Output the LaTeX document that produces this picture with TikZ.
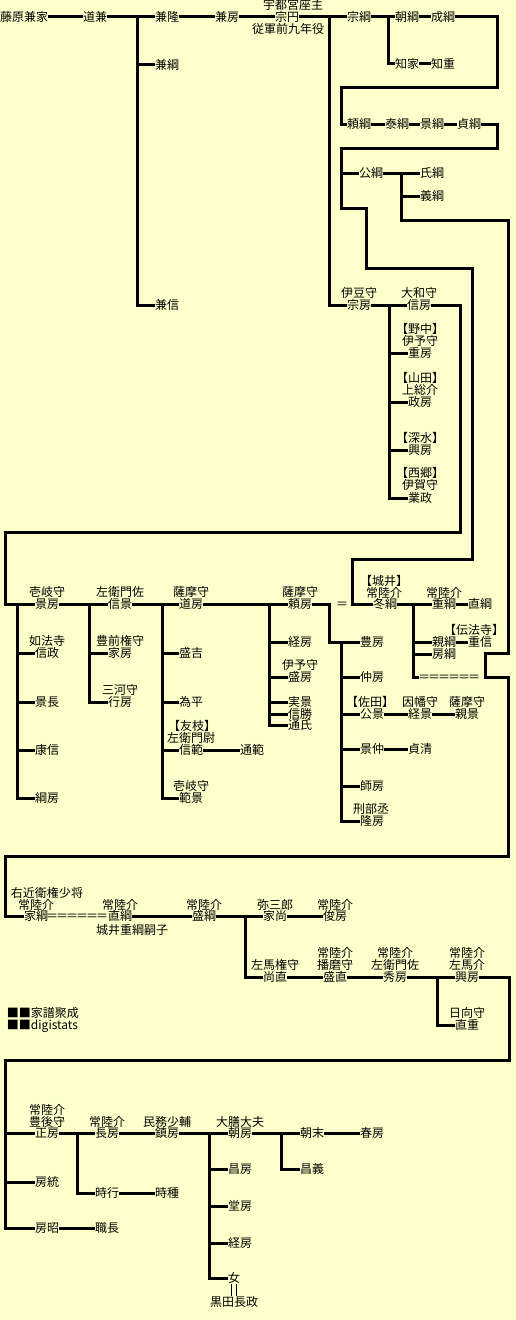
\documentclass[tikz,border=0pt]{standalone}
\usepackage{fontspec}
\newfontfamily\jp[RawFeature=+halt]{Noto Sans CJK JP}
\definecolor{bgc}{HTML}{FFFFCC}
\newcommand{\eqrow}{\makebox[7.5pt]{＝}\makebox[7.5pt]{＝}\makebox[7.5pt]{＝}\makebox[7.5pt]{＝}\makebox[7.5pt]{＝}\makebox[7.5pt]{＝}}
\begin{document}
\begin{tikzpicture}[x=0.75pt,y=-0.75pt,
  nm/.style={inner sep=0pt,outer sep=0pt,text height=7.9pt,text depth=1.1pt,font={\jp\fontsize{9pt}{9pt}\selectfont}},
  ln/.style={line width=2.25pt,line join=miter},
  dl/.style={line width=0.75pt}]
\fill[bgc] (0,0) rectangle (516,1320);
\useasboundingbox (0,0) rectangle (516,1320);

% ---------- top block ----------
\node[nm] (kaneie) at (24,17) {藤原兼家};
\node[nm] (michikane) at (95,17) {道兼};
\node[nm] (kanetaka) at (167,17) {兼隆};
\node[nm] (kanetsuna) at (167,65) {兼綱};
\node[nm] (kanenobu) at (167,305) {兼信};
\node[nm] (kanefusa) at (227,17) {兼房};
\node[nm] (soenA) at (293,5) {宇都宮座主};
\node[nm] (soen) at (287,17) {宗円};
\node[nm] (soenB) at (288,29) {従軍前九年役};
\node[nm] (munetsuna) at (359,17) {宗綱};
\node[nm] (tomotsuna) at (407,17) {朝綱};
\node[nm] (naritsuna) at (443,17) {成綱};
\node[nm] (tomoie) at (407,64) {知家};
\node[nm] (tomoshige) at (443,64) {知重};

\node[nm] (yoritsuna) at (359,124) {頼綱};
\node[nm] (yasutsuna) at (397,124) {泰綱};
\node[nm] (kagetsuna) at (432,124) {景綱};
\node[nm] (sadatsuna) at (469,124) {貞綱};

\node[nm] (kimitsuna) at (371,173) {公綱};
\node[nm] (ujitsuna) at (432,173) {氏綱};
\node[nm] (yoshitsuna) at (432,196) {義綱};

\node[nm] (munefusaA) at (359,293) {伊豆守};
\node[nm] (munefusa) at (359,305) {宗房};
\node[nm] (nobufusaA) at (419,293) {大和守};
\node[nm] (nobufusa) at (419,305) {信房};
\node[nm] (shigefusaA) at (420,329) {【野中】};
\node[nm] (shigefusaB) at (420,341) {伊予守};
\node[nm] (shigefusa) at (420,353) {重房};
\node[nm] (masafusaA) at (420,378) {【山田】};
\node[nm] (masafusaB) at (420,390) {上総介};
\node[nm] (masafusa) at (420,402) {政房};
\node[nm] (okifusaA) at (420,438) {【深水】};
\node[nm] (okifusa) at (420,450) {興房};
\node[nm] (narimasaA) at (420,473) {【西郷】};
\node[nm] (narimasaB) at (420,485) {伊賀守};
\node[nm] (narimasa) at (420,498) {業政};

% ---------- second block ----------
\node[nm] (kagefusaA) at (47,592) {壱岐守};
\node[nm] (kagefusa) at (47,604) {景房};
\node[nm] (nobumasaA) at (47,641) {如法寺};
\node[nm] (nobumasa) at (47,653) {信政};
\node[nm] (kagenaga) at (47,702) {景長};
\node[nm] (yasunobu) at (47,750) {康信};
\node[nm] (tsunafusa) at (47,798) {綱房};
\node[nm] (nobukageA) at (120,592) {左衛門佐};
\node[nm] (nobukage) at (120,604) {信景};
\node[nm] (iefusaA) at (120,641) {豊前権守};
\node[nm] (iefusa) at (120,653) {家房};
\node[nm] (yukifusaA) at (120,690) {三河守};
\node[nm] (yukifusa) at (120,702) {行房};
\node[nm] (michifusaA) at (191,592) {薩摩守};
\node[nm] (michifusa) at (191,604) {道房};
\node[nm] (moriyoshi) at (191,653) {盛吉};
\node[nm] (tamehira) at (191,702) {為平};
\node[nm] (nobunoriA) at (192,726) {【友枝】};
\node[nm] (nobunoriB) at (191,738) {左衛門尉};
\node[nm] (nobunori) at (191,750) {信範};
\node[nm] (michinori) at (252,750) {通範};
\node[nm] (norikageA) at (191,786) {壱岐守};
\node[nm] (norikage) at (191,798) {範景};
\node[nm] (yorifusaA) at (300,592) {薩摩守};
\node[nm] (yorifusa) at (300,604) {頼房};
\node[nm] (tsunefusa) at (300,642) {経房};
\node[nm] (morifusaA) at (300,665) {伊予守};
\node[nm] (morifusa) at (300,677) {盛房};
\node[nm] (sanekage) at (300,702) {実景};
\node[nm] (nobukatsu) at (300,714) {信勝};
\node[nm] (michiuji) at (300,725) {通氏};
\node[nm] (eq1) at (342,604) {＝};
\node[nm] (toyofusa) at (372,642) {豊房};
\node[nm] (nakafusa) at (372,677) {仲房};
\node[nm] (kimikageA) at (370,702) {【佐田】};
\node[nm] (kimikage) at (372,714) {公景};
\node[nm] (tsunekageA) at (420,702) {因幡守};
\node[nm] (tsunekage) at (420,714) {経景};
\node[nm] (chikakageA) at (467,702) {薩摩守};
\node[nm] (chikakage) at (467,714) {親景};
\node[nm] (kagenaka) at (372,749) {景仲};
\node[nm] (sadakiyo) at (420,749) {貞清};
\node[nm] (morofusa) at (372,786) {師房};
\node[nm] (takafusaA) at (371,809) {刑部丞};
\node[nm] (takafusa) at (372,821) {隆房};
\node[nm] (fuyutsunaA) at (384,581) {【城井】};
\node[nm] (fuyutsunaB) at (384,593) {常陸介};
\node[nm] (fuyutsuna) at (385,604) {冬綱};
\node[nm] (shigetsunaA) at (444,593) {常陸介};
\node[nm] (shigetsuna) at (444,604) {重綱};
\node[nm] (naotsuna) at (480,604) {直綱};
\node[nm] (shigenobuA) at (474,630) {【伝法寺】};
\node[nm] (shigenobu) at (480,642) {重信};
\node[nm] (chikatsuna) at (444,642) {親綱};
\node[nm] (fusatsuna) at (444,654) {房綱};
\node[nm] (eqA) at (449,677) {\eqrow};

% ---------- third block ----------
\node[nm] (ietsunaA) at (47,893) {右近衛権少将};
\node[nm] (ietsunaB) at (36,905) {常陸介};
\node[nm] (ietsuna) at (36,916) {家綱};
\node[nm] (eqB) at (77,916) {\eqrow};
\node[nm] (naotsuna2A) at (120,905) {常陸介};
\node[nm] (naotsuna2) at (120,916) {直綱};
\node[nm] (naotsuna2B) at (132,930) {城井重綱嗣子};
\node[nm] (moritsunaA) at (204,905) {常陸介};
\node[nm] (moritsuna) at (204,916) {盛綱};
\node[nm] (ienaoA) at (275,905) {弥三郎};
\node[nm] (ienao) at (275,916) {家尚};
\node[nm] (toshifusaA) at (335,905) {常陸介};
\node[nm] (toshifusa) at (335,916) {俊房};
\node[nm] (naonaoA) at (275,965) {左馬権守};
\node[nm] (naonao) at (275,977) {尚直};
\node[nm] (morinaoA) at (335,953) {常陸介};
\node[nm] (morinaoB) at (335,965) {播磨守};
\node[nm] (morinao) at (335,977) {盛直};
\node[nm] (hidefusaA) at (395,953) {常陸介};
\node[nm] (hidefusaB) at (395,965) {左衛門佐};
\node[nm] (hidefusa) at (395,977) {秀房};
\node[nm] (okifusa2A) at (467,953) {常陸介};
\node[nm] (okifusa2B) at (467,965) {左馬介};
\node[nm] (okifusa2) at (467,977) {興房};
\node[nm] (naoshigeA) at (467,1013) {日向守};
\node[nm] (naoshige) at (467,1025) {直重};
\node[nm,anchor=west] (credit1) at (7,1013) {■■家譜聚成};
\node[nm,anchor=west] (credit2) at (7,1025) {■■digistats};

% ---------- fourth block ----------
\node[nm] (masafusa3A) at (47,1110) {常陸介};
\node[nm] (masafusa3B) at (47,1122) {豊後守};
\node[nm] (masafusa3) at (47,1133) {正房};
\node[nm] (fusamune) at (47,1182) {房統};
\node[nm] (fusaaki) at (47,1228) {房昭};
\node[nm] (motonaga) at (107,1228) {職長};
\node[nm] (nagafusaA) at (107,1122) {常陸介};
\node[nm] (nagafusa) at (107,1133) {長房};
\node[nm] (tokiyuki) at (107,1193) {時行};
\node[nm] (tokitane) at (167,1193) {時種};
\node[nm] (shigefusa3A) at (167,1122) {民務少輔};
\node[nm] (shigefusa3) at (167,1133) {鎮房};
\node[nm] (tomofusaA) at (240,1122) {大膳大夫};
\node[nm] (tomofusa) at (240,1133) {朝房};
\node[nm] (masafusa4) at (240,1169) {昌房};
\node[nm] (dofusa) at (240,1206) {堂房};
\node[nm] (tsunefusa2) at (240,1243) {経房};
\node[nm] (onna) at (234,1278) {女};
\node[nm] (kuroda) at (234,1302) {黒田長政};
\node[nm] (tomosue) at (312,1133) {朝末};
\node[nm] (masayoshi) at (312,1169) {昌義};
\node[nm] (harufusa) at (372,1133) {春房};

% ---------- coordinates ----------
\coordinate (t1) at (137,17);
\coordinate (t2) at (329,17);
\coordinate (t3) at (388,17);
\coordinate (c1) at (497,88);
\coordinate (c2) at (341,88);
\coordinate (c3) at (497,148);
\coordinate (c4) at (341,148);
\coordinate (c5) at (341,208);
\coordinate (c6) at (366,208);
\coordinate (c7) at (366,268);
\coordinate (c8) at (472,268);
\coordinate (c9) at (472,559);
\coordinate (c10) at (352,559);
\coordinate (c11) at (401,173);
\coordinate (c12) at (401,220);
\coordinate (c13) at (508,220);
\coordinate (c14) at (508,653);
\coordinate (c15) at (485,653);
\coordinate (c16) at (485,677);
\coordinate (c17) at (508,677);
\coordinate (c18) at (508,856);
\coordinate (c19) at (5,856);
\coordinate (c20) at (389,305);
\coordinate (c21) at (460,532);
\coordinate (c22) at (5,532);
\coordinate (k1) at (17,604);
\coordinate (k2) at (89,604);
\coordinate (k3) at (162,604);
\coordinate (k4) at (269,604);
\coordinate (k6) at (329,642);
\coordinate (k7) at (341,642);
\coordinate (k8) at (413,604);
\coordinate (m1) at (245,916);
\coordinate (m2) at (437,977);
\coordinate (m3) at (509,1060);
\coordinate (m4) at (5,1060);
\coordinate (n1) at (77,1133);
\coordinate (n2) at (209,1133);
\coordinate (n3) at (281,1133);

% ---------- connectors: top ----------
\draw[ln] (kaneie) -- (michikane);
\draw[ln] (michikane) -- (kanetaka);
\draw[ln] (t1) |- (kanetsuna);
\draw[ln] (t1) |- (kanenobu);
\draw[ln] (kanetaka) -- (kanefusa);
\draw[ln] (kanefusa) -- (soen);
\draw[ln] (soen) -- (munetsuna);
\draw[ln] (t2) |- (munefusa);
\draw[ln] (munetsuna) -- (tomotsuna);
\draw[ln] (t3) |- (tomoie);
\draw[ln] (tomotsuna) -- (naritsuna);
\draw[ln] (tomoie) -- (tomoshige);
\draw[ln] (naritsuna) -| (c1) -- (c2) |- (yoritsuna);
\draw[ln] (yoritsuna) -- (yasutsuna);
\draw[ln] (yasutsuna) -- (kagetsuna);
\draw[ln] (kagetsuna) -- (sadatsuna);
\draw[ln] (sadatsuna) -| (c3) -- (c4) -- (c5) -- (c6) -- (c7) -- (c8) -- (c9) -- (c10) |- (fuyutsuna.west);
\draw[ln] (c4) |- (kimitsuna);
\draw[ln] (kimitsuna) -- (ujitsuna);
\draw[ln] (c11) |- (yoshitsuna);
\draw[ln] (c11) -- (c12) -- (c13) -- (c14) -- (c15) -- (c16) -- (c17) -- (c18) -- (c19) |- (ietsuna.west);
\draw[ln] (munefusa) -- (nobufusa);
\draw[ln] (c20) |- (shigefusa);
\draw[ln] (c20) |- (masafusa);
\draw[ln] (c20) |- (okifusa);
\draw[ln] (c20) |- (narimasa);
\draw[ln] (nobufusa) -| (c21) -- (c22) |- (kagefusa.west);

% ---------- connectors: second ----------
\draw[ln] (kagefusa) -- (nobukage);
\draw[ln] (nobukage) -- (michifusa);
\draw[ln] (michifusa) -- (yorifusa);
\draw[ln] (k1) |- (nobumasa);
\draw[ln] (k1) |- (kagenaga);
\draw[ln] (k1) |- (yasunobu);
\draw[ln] (k1) |- (tsunafusa);
\draw[ln] (k2) |- (iefusa);
\draw[ln] (k2) |- (yukifusa);
\draw[ln] (k3) |- (moriyoshi);
\draw[ln] (k3) |- (tamehira);
\draw[ln] (k3) |- (nobunori);
\draw[ln] (k3) |- (norikage);
\draw[ln] (nobunori) -- (michinori);
\draw[ln] (k4) |- (tsunefusa);
\draw[ln] (k4) |- (morifusa);
\draw[ln] (k4) |- (sanekage);
\draw[ln] (k4) |- (nobukatsu);
\draw[ln] (k4) |- (michiuji);
\draw[ln] (yorifusa) -| (k6) -- (toyofusa);
\draw[ln] (k7) |- (nakafusa);
\draw[ln] (k7) |- (kimikage);
\draw[ln] (k7) |- (kagenaka);
\draw[ln] (k7) |- (morofusa);
\draw[ln] (k7) |- (takafusa);
\draw[ln] (kimikage) -- (tsunekage);
\draw[ln] (tsunekage) -- (chikakage);
\draw[ln] (kagenaka) -- (sadakiyo);
\draw[ln] (fuyutsuna) -- (shigetsuna);
\draw[ln] (shigetsuna) -- (naotsuna);
\draw[ln] (k8) |- (chikatsuna);
\draw[ln] (k8) |- (fusatsuna);
\draw[ln] (k8) |- (eqA);
\draw[ln] (chikatsuna) -- (shigenobu);

% ---------- connectors: third ----------
\draw[ln] (naotsuna2) -- (moritsuna);
\draw[ln] (moritsuna) -- (ienao);
\draw[ln] (ienao) -- (toshifusa);
\draw[ln] (m1) |- (naonao);
\draw[ln] (naonao) -- (morinao);
\draw[ln] (morinao) -- (hidefusa);
\draw[ln] (hidefusa) -- (okifusa2);
\draw[ln] (m2) |- (naoshige);
\draw[ln] (okifusa2) -| (m3) -- (m4) |- (masafusa3.west);

% ---------- connectors: fourth ----------
\draw[ln] (m4) |- (fusamune);
\draw[ln] (m4) |- (fusaaki);
\draw[ln] (fusaaki) -- (motonaga);
\draw[ln] (masafusa3) -- (nagafusa);
\draw[ln] (n1) |- (tokiyuki);
\draw[ln] (tokiyuki) -- (tokitane);
\draw[ln] (nagafusa) -- (shigefusa3);
\draw[ln] (shigefusa3) -- (tomofusa);
\draw[ln] (n2) |- (masafusa4);
\draw[ln] (n2) |- (dofusa);
\draw[ln] (n2) |- (tsunefusa2);
\draw[ln] (n2) |- (onna);
\draw[ln] (tomofusa) -- (tomosue);
\draw[ln] (tomosue) -- (harufusa);
\draw[ln] (n3) |- (masayoshi);
\draw[dl] ([xshift=-2.2pt]onna.south) -- ([xshift=-2.2pt]kuroda.north);
\draw[dl] ([xshift=1.6pt]onna.south) -- ([xshift=1.6pt]kuroda.north);
\end{tikzpicture}
\end{document}
